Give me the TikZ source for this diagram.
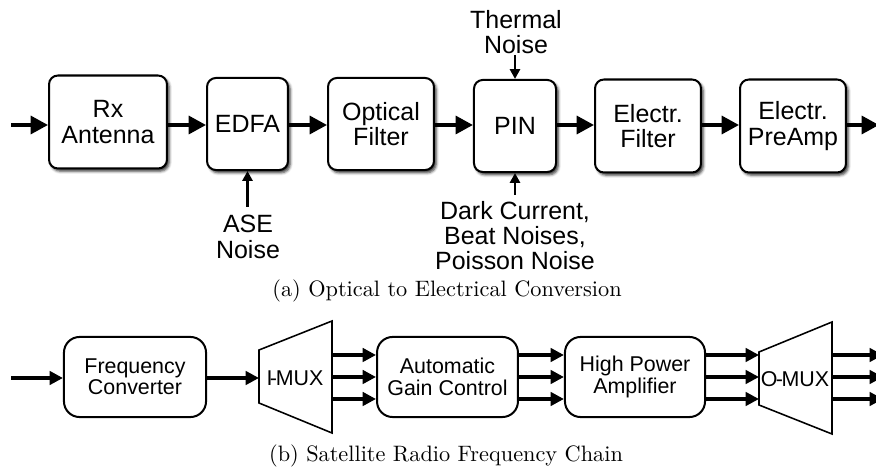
\documentclass[tikz,border=0pt]{standalone}
\usepackage{fontspec}
\newfontfamily\hv{Liberation Sans}
\usetikzlibrary{arrows.meta,shadows.blur}
\newcommand\toptext{\hv\fontsize{11.2pt}{11.3pt}\selectfont}
\newcommand\bottext{\hv\fontsize{9.6pt}{9.6pt}\selectfont}
\tikzset{
  topbox/.style={draw, line width=0.9pt, rounded corners=4pt, fill=white,
    blur shadow={shadow xshift=1pt, shadow yshift=-1.2pt, shadow blur radius=1.2pt, shadow opacity=80},
    font=\toptext, align=center, inner sep=0pt},
  botbox/.style={draw, line width=0.9pt, rounded corners=7pt, fill=white,
    font=\bottext, align=center, inner sep=0pt, minimum height=35.9pt},
  bigarr/.style={line width=1.7pt, -{Triangle[length=7.8pt,width=8pt]}},
  medarr/.style={line width=1.6pt, -{Triangle[length=6pt,width=6pt]}},
  smallarr/.style={line width=1.2pt, -{Triangle[length=4.4pt,width=4.5pt]}},
  mux/.style={draw, line width=0.7pt, line join=miter},
  lbl/.style={font=\toptext, align=center, inner sep=0pt},
}
\begin{document}
\begin{tikzpicture}[x=0.4484pt,y=-0.4484pt]
\useasboundingbox (0,0) rectangle (876,472);

% ---------- (a) ----------
\node[topbox, minimum width=52.9pt, minimum height=41.7pt] (rx)   at (108,122) {Rx\\Antenna};
\node[topbox, minimum width=36.3pt, minimum height=41.3pt] (edfa) at (247.5,124) {EDFA};
\node[topbox, minimum width=47.5pt, minimum height=41.3pt] (of)   at (381,124) {Optical\\Filter};
\node[topbox, minimum width=36.8pt, minimum height=41.3pt] (pin)  at (515,126) {PIN};
\node[topbox, minimum width=47.5pt, minimum height=41.7pt] (ef)   at (648,126) {Electr.\\Filter};
\node[topbox, minimum width=47.5pt, minimum height=41.7pt] (pa)   at (793,126) {Electr.\\PreAmp};

\coordinate (ina) at (11,125);
\coordinate (outa) at (879,125);
\draw[bigarr] (ina) -- (ina -| rx.west);
\draw[bigarr] (rx.east |- ina) -- (edfa.west |- ina);
\draw[bigarr] (edfa.east |- ina) -- (of.west |- ina);
\draw[bigarr] (of.east |- ina) -- (pin.west |- ina);
\draw[bigarr] (pin.east |- ina) -- (ef.west |- ina);
\draw[bigarr] (ef.east |- ina) -- (pa.west |- ina);
\draw[bigarr] (pa.east |- ina) -- (outa);

\node[lbl, anchor=north] (ase) at (248,215) {ASE\\Noise};
\coordinate (asetop) at (247.5,207);
\draw[smallarr] (asetop) -- (edfa.south);

\node[lbl, anchor=north] (therm) at (516,10) {Thermal\\Noise};
\coordinate (thbot) at (515,55);
\draw[smallarr] (thbot) -- (pin.north);

\node[lbl, anchor=north] (dark) at (515,201) {Dark Current,\\Beat Noises,\\Poisson Noise};
\coordinate (dktop) at (515,195);
\draw[smallarr] (dktop) -- (pin.south);

\node[anchor=base, inner sep=0pt] (capa) at (447,297) {(a) Optical to Electrical Conversion};

% ---------- (b) ----------
\node[botbox, minimum width=63.7pt] (fc)  at (135,377) {Frequency\\Converter};
\node[botbox, minimum width=63.2pt] (agc) at (447.5,377) {Automatic\\Gain Control};
\node[botbox, minimum width=62.8pt] (hpa) at (635,377) {High Power\\Amplifier};

\draw[mux] (259,350) -- (332,321) -- (332,433) -- (259,403) -- cycle;
\node[font=\bottext, inner sep=0pt] (imux) at (295,378) {I\kern-1.2pt-\kern-0.6ptMUX};
\draw[mux] (759,352) -- (832,322) -- (832,434) -- (759,405) -- cycle;
\node[font=\bottext, inner sep=0pt] (omux) at (795,379) {O\kern-0.8pt-\kern-0.6ptMUX};

\coordinate (inb) at (11,378);
\coordinate (imuxin) at (259,378);
\draw[medarr] (inb) -- (inb -| fc.west);
\draw[medarr] (fc.east |- inb) -- (imuxin);

\foreach \yy [count=\i] in {355,377,399}{
  \coordinate (ir\i) at (332,\yy);
  \coordinate (ol\i) at (759,\yy);
  \coordinate (or\i) at (832,\yy);
  \coordinate (ob\i) at (883,\yy);
  \draw[medarr] (ir\i) -- (ir\i -| agc.west);
  \draw[medarr] (agc.east |- ir\i) -- (hpa.west |- ir\i);
  \draw[medarr] (hpa.east |- ir\i) -- (ol\i);
  \draw[medarr] (or\i) -- (ob\i);
}

\node[anchor=base, inner sep=0pt] (capb) at (446,462) {(b) Satellite Radio Frequency Chain};
\end{tikzpicture}
\end{document}
